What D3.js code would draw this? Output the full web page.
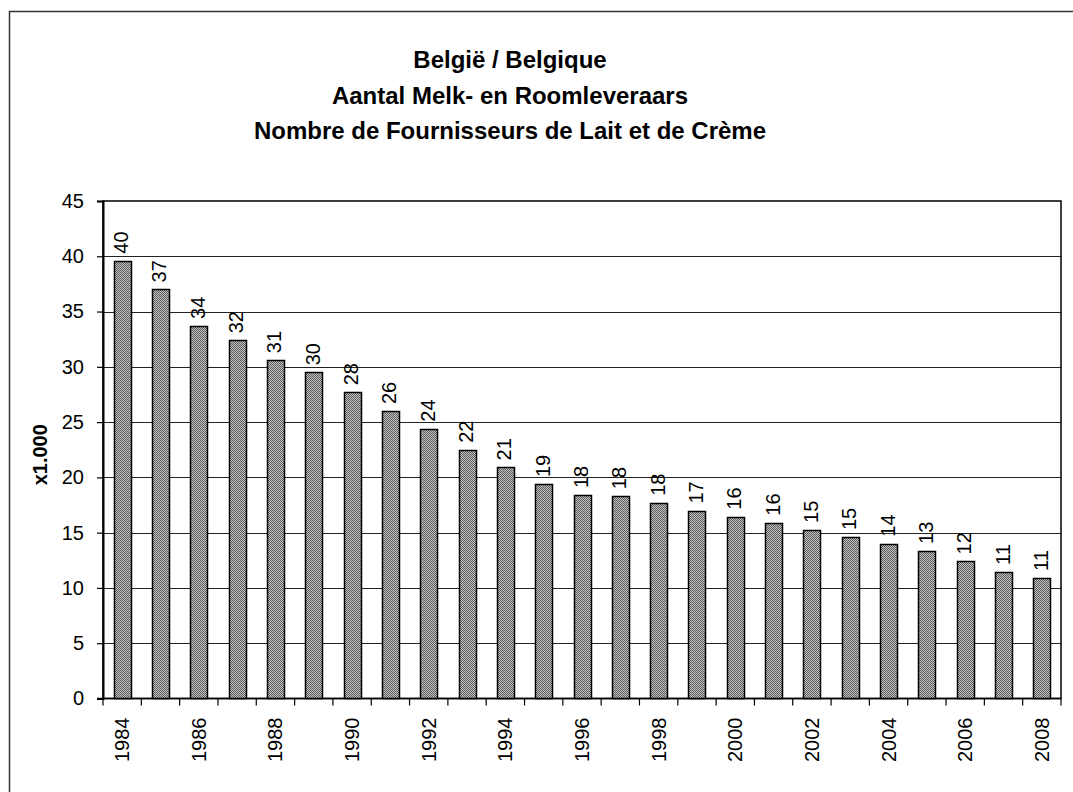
<!DOCTYPE html>
<html>
<head>
<meta charset="utf-8">
<script src="https://cdn.jsdelivr.net/npm/d3@7"></script>
<style>
  body { margin: 0; background: #fff; }
  text { font-family: Arial, "Liberation Sans", sans-serif; }
</style>
</head>
<body>
<script>
// data (x1.000)
const years = [1984, 1985, 1986, 1987, 1988, 1989, 1990, 1991, 1992, 1993, 1994, 1995, 1996,
  1997, 1998, 1999, 2000, 2001, 2002, 2003, 2004, 2005, 2006, 2007, 2008]
const values = [39.6, 37.0, 33.7, 32.4, 30.6, 29.5, 27.7, 26.0, 24.4, 22.5, 20.9, 19.4, 18.4,
  18.3, 17.7, 17.0, 16.45, 15.9, 15.25, 14.6, 14.0, 13.35, 12.4, 11.45, 10.9]
const valueLabels = ['40', '37', '34', '32', '31', '30', '28', '26', '24', '22', '21', '19', '18',
  '18', '18', '17', '16', '16', '15', '15', '14', '13', '12', '11', '11']
const yTicks = [0, 5, 10, 15, 20, 25, 30, 35, 40, 45]
const xTickLabels = years.filter(y => y % 2 === 0)
const titleLines = ['België / Belgique', 'Aantal Melk- en Roomleveraars', 'Nombre de Fournisseurs de Lait et de Crème']
const yTitle = 'x1.000'

const W = 1073, H = 792
const plot = { left: 103, right: 1061, top: 201, bottom: 698.5 }

const svg = d3.select('body').append('svg')
  .attr('width', W)
  .attr('height', H)

// grijs geruit patroon voor de staven
const defs = svg.append('defs')
const pat = defs.append('pattern')
  .attr('id', 'checker')
  .attr('width', 2)
  .attr('height', 2)
  .attr('patternUnits', 'userSpaceOnUse')
pat.append('rect').attr('width', 2).attr('height', 2).attr('fill', '#c4c4c4')
pat.append('rect').attr('width', 1).attr('height', 1).attr('fill', '#5a5a5a')
pat.append('rect').attr('x', 1).attr('y', 1).attr('width', 1).attr('height', 1).attr('fill', '#5a5a5a')

// buitenrand (loopt door buiten beeld)
svg.append('rect')
  .attr('x', 9.5).attr('y', 11.5)
  .attr('width', 1200).attr('height', 900)
  .attr('fill', '#fff')
  .attr('stroke', '#333')
  .attr('stroke-width', 1.5)

// titel
svg.append('g')
  .selectAll('text')
  .data(titleLines)
  .join('text')
  .attr('x', 510)
  .attr('y', (d, i) => 68 + i * 35.5)
  .attr('text-anchor', 'middle')
  .attr('font-size', 24)
  .attr('font-weight', 'bold')
  .text(d => d)

const x = d3.scaleBand()
  .domain(years)
  .range([plot.left, plot.right])
  .padding(0)

const y = d3.scaleLinear()
  .domain([0, 45])
  .range([plot.bottom, plot.top])

const barW = Math.round(x.bandwidth() * 0.44)

// rasterlijnen
svg.append('g')
  .selectAll('line')
  .data(yTicks.filter(d => d > 0 && d < 45))
  .join('line')
  .attr('x1', plot.left)
  .attr('x2', plot.right)
  .attr('y1', d => Math.round(y(d)) + 0.5)
  .attr('y2', d => Math.round(y(d)) + 0.5)
  .attr('stroke', '#222')
  .attr('stroke-width', 1)

// kader plotgebied
svg.append('rect')
  .attr('x', plot.left)
  .attr('y', plot.top)
  .attr('width', plot.right - plot.left)
  .attr('height', plot.bottom - plot.top)
  .attr('fill', 'none')
  .attr('stroke', '#000')
  .attr('stroke-width', 1.5)

// y-as
const yAxis = svg.append('g')
  .attr('transform', `translate(${plot.left},0)`)
  .call(d3.axisLeft(y).tickValues(yTicks).tickSize(6).tickPadding(13))
yAxis.select('.domain').attr('stroke', '#000').attr('stroke-width', 2)
yAxis.selectAll('.tick line').attr('stroke', '#000').attr('stroke-width', 1.2)
yAxis.selectAll('text')
  .attr('font-size', 20)
  .attr('fill', '#000')
  .attr('font-family', 'Arial, "Liberation Sans", sans-serif')

// x-as: streepjes tussen de categorieën
const xg = svg.append('g')
xg.append('line')
  .attr('x1', plot.left - 6).attr('x2', plot.right)
  .attr('y1', plot.bottom).attr('y2', plot.bottom)
  .attr('stroke', '#000').attr('stroke-width', 1.5)
xg.selectAll('line.tk')
  .data(years.concat([null]))
  .join('line')
  .attr('class', 'tk')
  .attr('x1', (d, i) => plot.left + i * x.step())
  .attr('x2', (d, i) => plot.left + i * x.step())
  .attr('y1', plot.bottom)
  .attr('y2', plot.bottom + 7)
  .attr('stroke', '#000')
  .attr('stroke-width', 1.2)
xg.selectAll('text')
  .data(xTickLabels)
  .join('text')
  .attr('transform', d => `translate(${x(d) + x.bandwidth() / 2},${plot.bottom + 19}) rotate(-90)`)
  .attr('text-anchor', 'end')
  .attr('dy', '0.35em')
  .attr('font-size', 20)
  .text(d => d)

// staven
svg.append('g')
  .selectAll('rect')
  .data(values)
  .join('rect')
  .attr('x', (d, i) => Math.round(x(years[i]) + (x.bandwidth() - barW) / 2) + 0.5)
  .attr('y', d => Math.round(y(d)) + 0.5)
  .attr('width', barW)
  .attr('height', d => plot.bottom - Math.round(y(d)) - 0.5)
  .attr('fill', 'url(#checker)')
  .attr('stroke', '#000')
  .attr('stroke-width', 1.5)

// waardelabels
svg.append('g')
  .selectAll('text')
  .data(values)
  .join('text')
  .attr('transform', (d, i) => `translate(${x(years[i]) + x.bandwidth() / 2 - 1},${y(d) - 7}) rotate(-90)`)
  .attr('text-anchor', 'start')
  .attr('dy', '0.35em')
  .attr('font-size', 20)
  .text((d, i) => valueLabels[i])

// y-astitel
svg.append('text')
  .attr('transform', `translate(40,${(plot.top + plot.bottom) / 2 + 5}) rotate(-90)`)
  .attr('text-anchor', 'middle')
  .attr('dy', '0.35em')
  .attr('font-size', 20)
  .attr('font-weight', 'bold')
  .text(yTitle)
</script>
</body>
</html>
